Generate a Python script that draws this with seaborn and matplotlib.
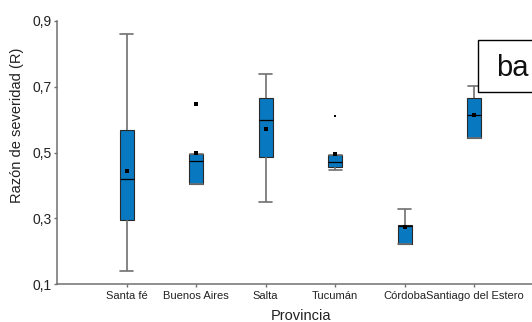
import numpy as np
import pandas as pd
import matplotlib
matplotlib.use("Agg")
import matplotlib.pyplot as plt
from matplotlib.patches import Rectangle
import seaborn as sns

# ---- data ----
provincias = ["Santa fé", "Buenos Aires", "Salta", "Tucumán", "Córdoba", "Santiago del Estero"]
whisker_low = [0.140, 0.405, 0.350, 0.446, 0.221, 0.544]
q1 = [0.296, 0.405, 0.486, 0.455, 0.221, 0.544]
median = [0.421, 0.473, 0.599, 0.470, 0.277, 0.614]
q3 = [0.568, 0.494, 0.665, 0.492, 0.280, 0.665]
whisker_high = [0.859, 0.494, 0.738, 0.492, 0.328, 0.701]
means = [0.444, 0.497, 0.571, 0.496, 0.273, 0.614]
outlier_prov = ["Buenos Aires"]
outlier_vals = [0.648]
small_outlier_prov = ["Tucumán"]
small_outlier_vals = [0.611]
ytick_vals = [0.1, 0.3, 0.5, 0.7, 0.9]
ytick_labels = ["0,1", "0,3", "0,5", "0,7", "0,9"]
annot_text = "ba"

# five summary values per province -> quartiles reproduce the box exactly
rows = []
for p, a, b, c, d, e in zip(provincias, whisker_low, q1, median, q3, whisker_high):
    for v in (a, b, c, d, e):
        rows.append({"Provincia": p, "R": v})
df = pd.DataFrame(rows)

sns.set_style("ticks")
plt.rcParams["font.family"] = ["Liberation Sans", "DejaVu Sans"]

W, H = 532, 322
fig = plt.figure(figsize=(W / 100, H / 100), dpi=100)
ax_left, ax_right, ax_top, ax_bottom = 57, 544, 20.7, 284.3
ax = fig.add_axes([ax_left / W, (H - ax_bottom) / H,
                   (ax_right - ax_left) / W, (ax_bottom - ax_top) / H])

fill = "#0878c0"
gray = "#707070"
sns.boxplot(data=df, x="Provincia", y="R", order=provincias, whis=(0, 100),
            width=0.2, color=fill, saturation=1, showfliers=False,
            linecolor="#2a2a2a", linewidth=0.8, capwidths=0.19,
            whiskerprops=dict(color=gray, linewidth=1.2),
            capprops=dict(color=gray, linewidth=1.2),
            medianprops=dict(color="black", linewidth=0.9),
            ax=ax)

sns.stripplot(x=provincias, y=means, order=provincias, jitter=False,
              marker="s", size=3.2, color="black", linewidth=0, ax=ax, zorder=5)
sns.stripplot(x=outlier_prov, y=outlier_vals, order=provincias, jitter=False,
              marker="s", size=3.2, color="black", linewidth=0, ax=ax, zorder=5)
sns.stripplot(x=small_outlier_prov, y=small_outlier_vals, order=provincias, jitter=False,
              marker="s", size=1.6, color="black", linewidth=0, ax=ax, zorder=5)

ax.set_xlim(-1, 6)
ax.set_ylim(0.1, 0.9)
ax.set_yticks(ytick_vals)
ax.set_yticklabels(ytick_labels, fontsize=10, color="#222222")
ax.set_xticks(range(len(provincias)))
ax.set_xticklabels(provincias, fontsize=8, color="#222222")

for s in ("top", "right"):
    ax.spines[s].set_visible(False)
for s in ("left", "bottom"):
    ax.spines[s].set_color(gray)
    ax.spines[s].set_linewidth(1.1)
ax.tick_params(axis="y", length=2.5, width=1.0, color=gray, pad=1.5)
ax.tick_params(axis="x", length=2.5, width=1.0, color=gray, pad=2.5)

axw = ax_right - ax_left
axh = ax_bottom - ax_top
ax.set_ylabel("Razón de severidad (R)", fontsize=10.5, color="#222222")
ax.yaxis.set_label_coords((24 - ax_left) / axw, (ax_bottom - 125) / axh)
ax.set_xlabel("Provincia", fontsize=10.5, color="#222222")
ax.xaxis.set_label_coords((301 - ax_left) / axw, -(309 - ax_bottom) / axh)

# boxed annotation at top right (cut by the figure edge)
rx0, ry0, rx1, ry1 = 478.3, 40, 545, 92
fig.patches.append(Rectangle((rx0 / W, 1 - ry1 / H), (rx1 - rx0) / W, (ry1 - ry0) / H,
                             transform=fig.transFigure, facecolor="white",
                             edgecolor="black", linewidth=1.0, zorder=10))
fig.text(512.7 / W, 1 - 67.5 / H, annot_text, ha="center", va="center",
         fontsize=21, color="#111111", zorder=11)

fig.savefig("out.png", dpi=100)
